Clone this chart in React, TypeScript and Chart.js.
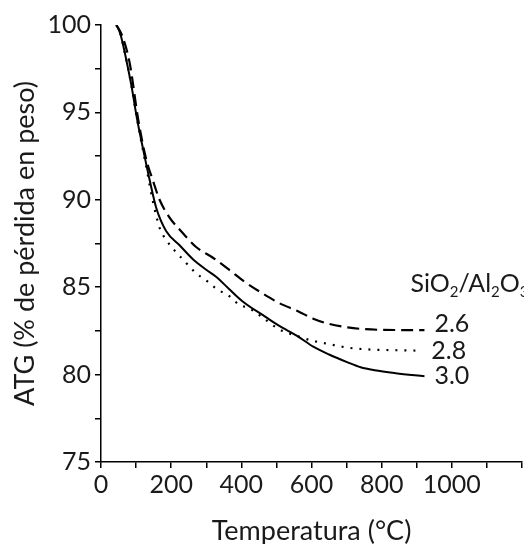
import React, { useEffect, useRef } from "react";
import { Chart, registerables } from "chart.js";

Chart.register(...registerables);

// Temperature (°C) and weight (%) for each SiO2/Al2O3 ratio
const tempA: number[] = [44, 60, 82, 106, 129, 148, 167, 195, 233, 271, 318, 365, 410, 460, 507, 564, 605, 650, 703, 752, 850, 922];
const valA: number[] = [100, 99.4, 97.8, 94.6, 92.3, 91.1, 90.0, 89.0, 88.1, 87.3, 86.7, 86.0, 85.3, 84.65, 84.1, 83.6, 83.2, 82.9, 82.7, 82.6, 82.55, 82.55];

const tempB: number[] = [44, 55, 68, 87, 103, 120, 130, 139, 148, 167, 186, 214, 233, 271, 299, 330, 365, 394, 422, 465, 507, 560, 600, 649, 700, 752, 830, 913];
const valB: number[] = [100, 99.5, 98.4, 96.5, 94.6, 92.8, 91.8, 90.8, 89.9, 88.4, 87.7, 87.0, 86.6, 85.8, 85.4, 84.9, 84.5, 84.0, 83.8, 83.2, 82.6, 82.2, 81.95, 81.75, 81.55, 81.45, 81.4, 81.37];

const tempC: number[] = [44, 55, 68, 87, 103, 120, 139, 158, 186, 224, 262, 300, 328, 365, 403, 469, 507, 560, 605, 650, 703, 740, 780, 840, 922];
const valC: number[] = [100, 99.5, 98.4, 96.5, 94.6, 92.9, 91.1, 89.5, 88.2, 87.4, 86.6, 86.0, 85.6, 84.9, 84.2, 83.3, 82.8, 82.2, 81.6, 81.15, 80.7, 80.42, 80.25, 80.08, 79.9];

const seriesLabels: string[] = ["2.6", "2.8", "3.0"];
const xTickLabels: number[] = [0, 200, 400, 600, 800, 1000];
const yTickLabels: number[] = [75, 80, 85, 90, 95, 100];

const FONT = "Lato, 'Open Sans', sans-serif";
const INK = "#1a1a1a";

const toPts = (t: number[], v: number[]) => t.map((x, i) => ({ x, y: v[i] }));

const labelPlugin = {
  id: "endLabels",
  afterDatasetsDraw(chart: any) {
    const ctx = chart.ctx;
    const xs = chart.scales.x;
    const ys = chart.scales.y;
    ctx.save();
    ctx.fillStyle = INK;
    ctx.textBaseline = "middle";
    ctx.textAlign = "left";
    ctx.font = `25px ${FONT}`;
    const offsets = [-6, 0, 0];
    chart.data.datasets.forEach((ds: any, i: number) => {
      const last = ds.data[ds.data.length - 1];
      const px = xs.getPixelForValue(last.x) + 10;
      const py = ys.getPixelForValue(last.y) + offsets[i];
      ctx.fillText(seriesLabels[i], px, py);
    });
    // heading SiO2/Al2O3
    const hx = xs.getPixelForValue(tempA[tempA.length - 1]) - 14;
    const hy = ys.getPixelForValue(valA[valA.length - 1]) - 46;
    const parts: [string, boolean][] = [["SiO", false], ["2", true], ["/Al", false], ["2", true], ["O", false], ["3", true]];
    let cx = hx;
    parts.forEach(([t, sub]) => {
      ctx.font = sub ? `15px ${FONT}` : `25px ${FONT}`;
      ctx.fillText(t, cx, sub ? hy + 8 : hy);
      cx += ctx.measureText(t).width;
    });
    ctx.restore();
  },
};

export default function App() {
  const ref = useRef<HTMLCanvasElement>(null);
  useEffect(() => {
    if (!ref.current) return;
    const chart = new Chart(ref.current, {
      type: "line",
      data: {
        datasets: [
          {
            label: seriesLabels[0],
            data: toPts(tempA, valA),
            borderColor: "#000",
            borderWidth: 2.2,
            borderDash: [12, 6],
            pointRadius: 0,
            cubicInterpolationMode: "monotone",
          },
          {
            label: seriesLabels[1],
            data: toPts(tempB, valB),
            borderColor: "#000",
            borderWidth: 2.2,
            borderDash: [2, 7],
            pointRadius: 0,
            cubicInterpolationMode: "monotone",
          },
          {
            label: seriesLabels[2],
            data: toPts(tempC, valC),
            borderColor: "#000",
            borderWidth: 2,
            pointRadius: 0,
            cubicInterpolationMode: "monotone",
          },
        ],
      },
      options: {
        animation: false,
        responsive: true,
        maintainAspectRatio: false,
        layout: { padding: { top: 25, left: 0, right: 0, bottom: 0 } },
        plugins: { legend: { display: false }, tooltip: { enabled: false } },
        scales: {
          x: {
            type: "linear",
            min: 0,
            max: 1200,
            afterFit: (s: any) => {
              s.height = 82;
            },
            border: { display: true, color: "#000", width: 1.5 },
            grid: { display: true, drawOnChartArea: false, drawTicks: true, tickLength: 6, color: "#000", lineWidth: 1.5 },
            ticks: {
              stepSize: 100,
              autoSkip: false,
              maxRotation: 0,
              padding: 2,
              color: INK,
              font: { family: FONT, size: 25 },
              callback: (v: any) => (xTickLabels.includes(Number(v)) ? String(v) : ""),
            },
            title: {
              display: true,
              text: "Temperatura (°C)",
              color: INK,
              font: { family: FONT, size: 27 },
              padding: { top: 0, bottom: -3 },
            },
          },
          y: {
            min: 75,
            max: 100,
            afterFit: (s: any) => {
              s.width = 101;
            },
            border: { display: true, color: "#000", width: 1.5 },
            grid: { display: true, drawOnChartArea: false, drawTicks: true, tickLength: 6, color: "#000", lineWidth: 1.5 },
            ticks: {
              stepSize: 2.5,
              autoSkip: false,
              padding: 4,
              color: INK,
              font: { family: FONT, size: 25 },
              callback: (v: any) => (yTickLabels.includes(Number(v)) ? String(v) : ""),
            },
            title: {
              display: true,
              text: "ATG (% de pérdida en peso)",
              color: INK,
              font: { family: FONT, size: 27 },
              padding: { top: 9, bottom: 0 },
            },
          },
        },
      },
      plugins: [labelPlugin],
    } as any);
    return () => chart.destroy();
  }, []);
  return (
    <div style={{ position: "absolute", left: 0, top: 0, width: 524, height: 544 }}>
      <canvas ref={ref} />
    </div>
  );
}
